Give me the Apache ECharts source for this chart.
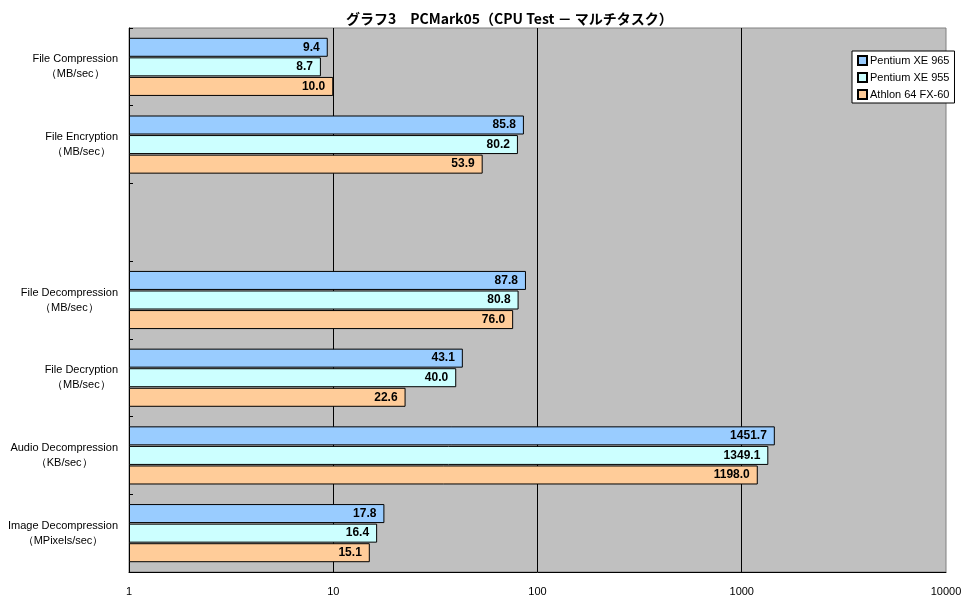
<!DOCTYPE html>
<html>
<head>
<meta charset="utf-8">
<script src="https://cdn.jsdelivr.net/npm/echarts@6/dist/echarts.min.js"></script>
<style>
  html, body { margin: 0; padding: 0; background: #fff; }
  #chart { width: 970px; height: 604px; }
</style>
</head>
<body>
<div id="chart"></div>
<script>
// カテゴリ（空欄も1つ含む）
const categories = [
    'File Compression\n（MB/sec）',
    'File Encryption\n（MB/sec）',
    '',
    'File Decompression\n（MB/sec）',
    'File Decryption\n（MB/sec）',
    'Audio Decompression\n（KB/sec）',
    'Image Decompression\n（MPixels/sec）'
]
const seriesNames = ['Pentium XE 965', 'Pentium XE 955', 'Athlon 64 FX-60']
const xe965 = [9.4, 85.8, null, 87.8, 43.1, 1451.7, 17.8]
const xe955 = [8.7, 80.2, null, 80.8, 40.0, 1349.1, 16.4]
const fx60 = [10.0, 53.9, null, 76.0, 22.6, 1198.0, 15.1]
const colors = ['#99CCFF', '#CCFFFF', '#FFCC99']

const font = '"Liberation Sans", Arial, sans-serif'

function makeSeries(name, data, color) {
    return {
        name,
        type: 'bar',
        data,
        barWidth: 19,
        barGap: '3%',
        itemStyle: { color, borderColor: '#000', borderWidth: 1 },
        label: {
            show: true,
            position: 'insideRight',
            distance: 8,
            color: '#000',
            fontWeight: 'bold',
            fontSize: 12,
            fontFamily: font,
            formatter: p => p.value == null ? '' : Number(p.value).toFixed(1)
        }
    }
}

const chart = echarts.init(document.getElementById('chart'))
chart.setOption({
    animation: false,
    backgroundColor: '#fff',
    title: {
        text: 'グラフ3　PCMark05（CPU Test － マルチタスク）',
        left: 341,
        top: 7,
        textStyle: {
            fontFamily: '"Noto Sans CJK JP", sans-serif',
            fontSize: 14,
            fontWeight: 'bold',
            color: '#000'
        }
    },
    legend: {
        orient: 'vertical',
        left: 852,
        top: 51,
        backgroundColor: '#fff',
        borderColor: '#000',
        borderWidth: 1,
        padding: [4, 5, 3, 5],
        itemWidth: 9,
        itemHeight: 9,
        itemGap: 6,
        icon: 'rect',
        textStyle: { fontSize: 11, fontFamily: font, color: '#000', padding: [0, 0, 0, -2] },
        data: seriesNames
    },
    grid: {
        left: 129,
        right: 24,
        top: 28,
        bottom: 32,
        show: true,
        backgroundColor: '#C0C0C0',
        borderColor: '#808080',
        borderWidth: 1
    },
    xAxis: {
        type: 'log',
        logBase: 10,
        min: 1,
        max: 10000,
        interval: 1,
        axisLine: { show: true, lineStyle: { color: '#000', width: 1 } },
        axisTick: { show: false },
        axisLabel: {
            color: '#000',
            fontSize: 11,
            fontFamily: font,
            margin: 14,
            formatter: v => String(Math.round(v))
        },
        splitLine: {
            show: true,
            showMinLine: false,
            showMaxLine: false,
            lineStyle: { color: '#000', width: 1 }
        }
    },
    yAxis: {
        type: 'category',
        data: categories,
        inverse: true,
        axisLine: { show: true, lineStyle: { color: '#000', width: 1 } },
        axisTick: { show: true, inside: true, length: 4, lineStyle: { color: '#000' } },
        axisLabel: {
            color: '#000',
            fontSize: 11,
            fontFamily: font,
            align: 'right',
            margin: 11,
            formatter: v => v ? v.split('\n').map(s => '{c|' + s + '}').join('\n') : '',
            rich: {
                c: {
                    align: 'center',
                    fontSize: 11,
                    fontFamily: font,
                    color: '#000',
                    lineHeight: 15
                }
            }
        },
        splitLine: { show: false }
    },
    series: [
        makeSeries(seriesNames[0], xe965, colors[0]),
        makeSeries(seriesNames[1], xe955, colors[1]),
        makeSeries(seriesNames[2], fx60, colors[2])
    ]
})
</script>
</body>
</html>
